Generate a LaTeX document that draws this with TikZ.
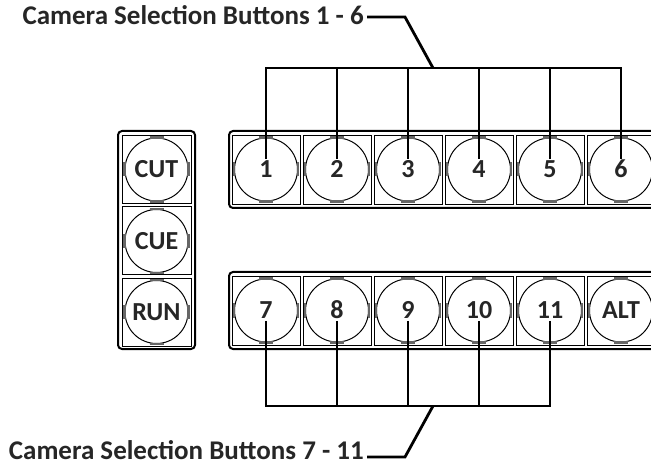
\documentclass[tikz,border=0pt]{standalone}
\usepackage{fontspec}
\setmainfont{Carlito}
\usetikzlibrary{calc}

\tikzset{
  panel/.style={draw, line width=2pt, rounded corners=4pt},
  cell/.style={draw, line width=0.9pt},
  btn/.style={draw, circle, line width=1pt, minimum size=63pt, inner sep=0pt},
  lbl/.style={font=\bfseries\fontsize{26}{26}\selectfont, text=black!85,
    text height=16.5pt, text depth=0pt, inner sep=2pt},
  lead/.style={line width=2.8pt},
  ttl/.style={font=\bfseries\fontsize{27}{27}\selectfont, text=black!85, inner sep=0pt},
  btnmark/.style={line width=2.2pt, gray!80!black},
}
\newcommand{\btnmarks}[1]{%
  \draw[btnmark] ($(#1.north)+(-7,0)$) -- ($(#1.north)+(7,0)$);
  \draw[btnmark] ($(#1.south)+(-7,0)$) -- ($(#1.south)+(7,0)$);
  \draw[btnmark] ($(#1.west)+(0,-7)$) -- ($(#1.west)+(0,7)$);
  \draw[btnmark] ($(#1.east)+(0,-7)$) -- ($(#1.east)+(0,7)$);}

\begin{document}
\begin{tikzpicture}[x=1pt, y=-1pt]
    \useasboundingbox (0,0) rectangle (651,465);
    \clip (0,0) rectangle (651,465);

    % left panel: CUT / CUE / RUN
    \draw[panel] (118,131) rectangle (195,349);
    \foreach \y in {135,206.5,278}
        \draw[cell] (122,\y) rectangle (191,\y+68);

    % upper row
    \draw[panel] (229,131) rectangle (720,208);
    \foreach \i in {0,...,5}
        \draw[cell] (232+71*\i,135) rectangle (300+71*\i,204);

    % lower row
    \draw[panel] (229,272) rectangle (720,349);
    \foreach \i in {0,...,5}
        \draw[cell] (232+71*\i,276) rectangle (300+71*\i,345);

    % buttons
    \node[btn] (cut) at (156.5,169.5) {};
    \node[btn] (cue) at (156.5,241) {};
    \node[btn] (run) at (156.5,312) {};
    \node[lbl] at (cut) {CUT};
    \node[lbl] at (cue) {CUE};
    \node[lbl] at (run) {RUN};
    \btnmarks{cut} \btnmarks{cue} \btnmarks{run}

    \foreach \i in {1,...,6} {
        \node[btn] (b\i) at (195+71*\i,169.5) {};
        \node[lbl] (n\i) at (b\i) {\i};
        \btnmarks{b\i}
    }
    \foreach \i/\t in {7/7, 8/8, 9/9, 10/10, 11/11, 12/ALT} {
        \node[btn] (b\i) at (195+71*\i-426,310.5) {};
        \node[lbl] (n\i) at (b\i) {\t};
        \btnmarks{b\i}
    }

    % leader 1 - 6
    \coordinate (tbus) at (0,68);
    \coordinate (tknee) at (433,68);
    \coordinate (tbend) at (405,17);
    \node[ttl, anchor=base east] (ttop) at (364,25) {Camera Selection Buttons 1 - 6};
    \foreach \i in {1,...,6}
        \draw[lead] (n\i.north) -- (n\i.north |- tbus);
    \draw[lead, line cap=rect] (n1.north |- tbus) -- (n6.north |- tbus);
    \draw[lead] (tknee) -- (tbend) -- ($(tbend -| ttop.east)+(3,0)$);

    % leader 7 - 11
    \coordinate (bbus) at (0,406);
    \coordinate (bknee) at (433,406);
    \coordinate (bbend) at (405,457);
    \node[ttl, anchor=base east] (tbot) at (364,459) {Camera Selection Buttons 7 - 11};
    \foreach \i in {7,...,11}
        \draw[lead] (n\i.south) -- (n\i.south |- bbus);
    \draw[lead, line cap=rect] (n7.south |- bbus) -- (n11.south |- bbus);
    \draw[lead] (bknee) -- (bbend) -- ($(bbend -| tbot.east)+(3,0)$);
\end{tikzpicture}
\end{document}
